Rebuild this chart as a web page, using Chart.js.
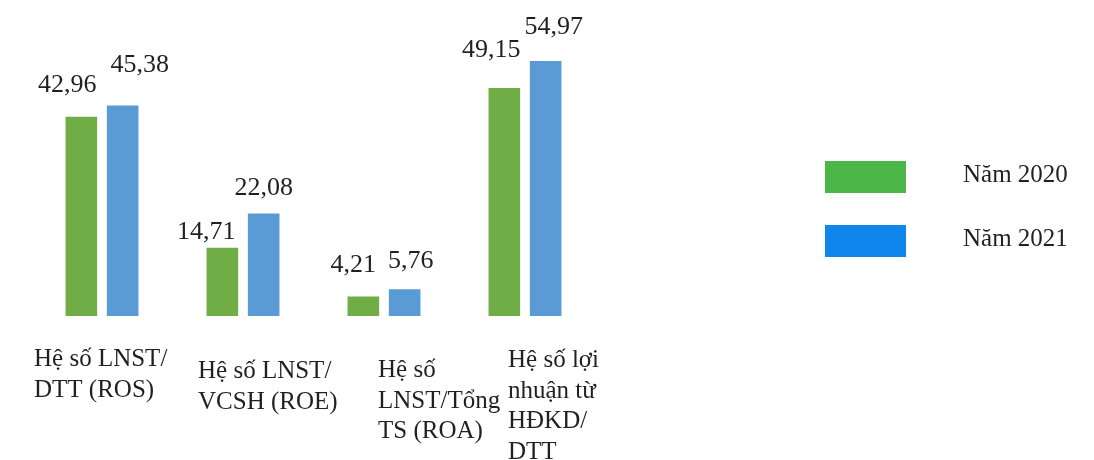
<!DOCTYPE html>
<html>
<head>
<meta charset="utf-8">
<script src="https://cdn.jsdelivr.net/npm/chart.js@4.4.1/dist/chart.umd.min.js"></script>
<style>
  html, body { margin: 0; padding: 0; background: #ffffff; }
  #wrap { position: relative; width: 1094px; height: 460px; }
</style>
</head>
<body>
<div id="wrap"><canvas id="c"></canvas></div>
<script>
// ---- data ----
const categories = [
  ["Hệ số LNST/", "DTT (ROS)"],
  ["Hệ số LNST/", "VCSH (ROE)"],
  ["Hệ số", "LNST/Tổng", "TS (ROA)"],
  ["Hệ số lợi", "nhuận từ", "HĐKD/", "DTT"]
];
const seriesNames = ["Năm 2020", "Năm 2021"];
const values2020 = [42.96, 14.71, 4.21, 49.15];
const values2021 = [45.38, 22.08, 5.76, 54.97];

// ---- styling / annotation nudges (kept apart from data) ----
const barColors = ["#70AD47", "#5B9BD5"];
const legendColors = ["#4CB648", "#0E86EC"];
const FONT = "'Liberation Serif', 'DejaVu Serif', serif";
const TEXT_COLOR = "#231F20";
// value label offsets: [dx from bar centre, dy of baseline from bar top]
const valueNudge = [
  [[-14, -25], [-16, -9], [-10, -24], [-13, -31]],
  [[17, -33], [0, -19], [6, -21], [8, -27]]
];
// category label offsets: [dx of left edge from category centre, dy of first baseline below axis]
const catNudge = [[-68, 50], [-45, 62], [-6, 61], [-17, 51]];
const CAT_LINE_H = 30.5;

const fmt = v => v.toFixed(2).replace('.', ',');

const annotate = {
  id: 'annotate',
  afterDatasetsDraw(chart) {
    const ctx = chart.ctx;
    ctx.save();
    ctx.fillStyle = TEXT_COLOR;
    ctx.textBaseline = 'alphabetic';
    // value labels
    ctx.font = "26px " + FONT;
    ctx.textAlign = 'center';
    chart.data.datasets.forEach((ds, di) => {
      const meta = chart.getDatasetMeta(di);
      meta.data.forEach((bar, i) => {
        const n = valueNudge[di][i];
        ctx.fillText(fmt(ds.data[i]), bar.x + n[0], bar.y + n[1]);
      });
    });
    // category labels
    const xs = chart.scales.x;
    const bottom = chart.chartArea.bottom;
    ctx.font = "25px " + FONT;
    ctx.textAlign = 'left';
    categories.forEach((lines, i) => {
      const cx = xs.getPixelForValue(i);
      const n = catNudge[i];
      lines.forEach((t, li) => {
        ctx.fillText(t, cx + n[0], bottom + n[1] + li * CAT_LINE_H);
      });
    });
    // legend
    ctx.font = "25px " + FONT;
    chart.data.datasets.forEach((ds, di) => {
      const by = 161 + di * 64;
      ctx.fillStyle = legendColors[di];
      ctx.fillRect(825, by, 81, 32);
      ctx.fillStyle = TEXT_COLOR;
      ctx.fillText(ds.label, 963, by + 21);
    });
    ctx.restore();
  }
};

new Chart(document.getElementById('c'), {
  type: 'bar',
  data: {
    labels: categories,
    datasets: [
      { label: seriesNames[0], data: values2020, backgroundColor: barColors[0] },
      { label: seriesNames[1], data: values2021, backgroundColor: barColors[1] }
    ]
  },
  options: {
    responsive: true,
    maintainAspectRatio: false,
    animation: false,
    events: [],
    layout: { padding: { left: 31.5, right: 498.5, top: 37.6, bottom: 144 } },
    datasets: { bar: { categoryPercentage: 0.586, barPercentage: 0.765, borderWidth: 0 } },
    scales: {
      x: { display: false, grid: { display: false } },
      y: { display: false, min: 0, max: 60, grid: { display: false } }
    },
    plugins: {
      legend: { display: false },
      tooltip: { enabled: false }
    }
  },
  plugins: [annotate]
});
</script>
</body>
</html>
